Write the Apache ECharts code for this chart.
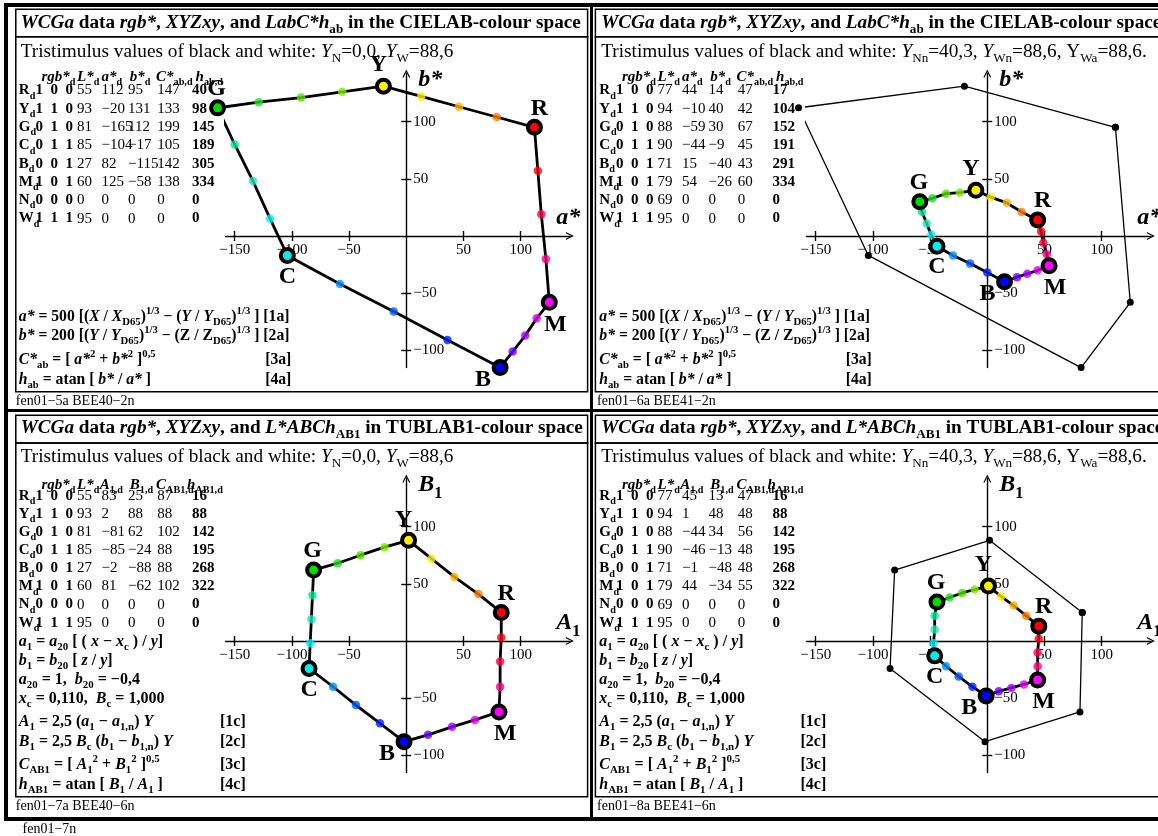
<!DOCTYPE html>
<html><head><meta charset="utf-8">
<script src="https://cdn.jsdelivr.net/npm/echarts@6/dist/echarts.min.js"></script>
<style>html,body{margin:0;padding:0;background:#fff}#c{width:1158px;height:836px}</style>
</head><body><div id="c"></div>
<script>
// ---------------- data ----------------
const rowNames = ['R','Y','G','C','B','M','N','W'];
const rgbCodes = ['1  0  0','1  1  0','0  1  0','0  1  1','0  0  1','1  0  1','0  0  0','1  1  1'];
const vertexNames = ['R','Y','G','C','B','M'];
const vertexColors = ['#ff0000','#ffee00','#00dd00','#00eeee','#0000ff','#ff00ff'];
const stepColors = ['#ff7a00','#ffae00','#ffe800','#80e800','#4ee000','#22dd22','#00e890','#20e4bc','#00f0f0','#0090ff','#0058ff','#0020ff','#6e00ff','#a800ff','#e400f0','#ff0088','#ff0048','#ff0010'];

// CIELAB, Y_N = 0
const lab1L = [55,93,81,85,27,60,0,95];
const lab1A = [112,-20,-165,-104,82,125,0,0];
const lab1B = [95,131,112,-17,-115,-58,0,0];
const lab1C = [147,133,199,105,142,138,0,0];
const lab1H = [40,98,145,189,305,334,0,0];
const lab1StepA = [79,46,13, -56,-92,-129, -150,-134,-119, -58,-11,36, 93,104,114, 122,118,115];
const lab1StepB = [104,113,122, 126,121,117, 80,48,15, -42,-66,-91, -101,-87,-72, -20,19,57];

// CIELAB, Y_Nn = 40,3
const lab2L = [77,94,88,90,71,79,69,95];
const lab2A = [44,-10,-59,-44,15,54,0,0];
const lab2B = [14,40,30,-9,-40,-26,0,0];
const lab2C = [47,42,67,45,43,60,0,0];
const lab2H = [17,104,152,191,291,334,0,0];
const lab2StepA = [30,17,3, -24,-36,-48, -57,-53,-49, -30,-15,0, 26,35,44, 52,49,47];
const lab2StepB = [21,29,34, 38,37,33, 21,11,1, -17,-24,-32, -36,-33,-30, -16,-6,4];

// TUBLAB1, Y_N = 0
const tub1L = [55,93,81,85,27,60,0,95];
const tub1A = [83,2,-81,-85,-2,81,0,0];
const tub1B = [25,88,62,-24,-88,-62,0,0];
const tub1C = [87,88,102,88,88,102,0,0];
const tub1H = [16,88,142,195,268,322,0,0];
const tub1StepA = [63,42,22, -19,-40,-60, -82,-83,-84, -64,-44,-23, 19,40,60, 82,82,83];
const tub1StepB = [41,56,72, 82,75,68, 40,19,-2, -40,-56,-72, -82,-75,-69, -40,-18,3];

// TUBLAB1, Y_Nn = 40,3
const tub2L = [77,94,88,90,71,79,69,95];
const tub2A = [45,1,-44,-46,-1,44,0,0];
const tub2B = [13,48,34,-13,-48,-34,0,0];
const tub2C = [47,48,56,48,48,55,0,0];
const tub2H = [16,88,142,195,268,322,0,0];
const tub2StepA = [34,23,12, -11,-22,-33, -46,-46,-47, -36,-25,-13, 10,21,32, 44,44,45];
const tub2StepB = [22,31,39, 45,42,38, 22,10,-2, -22,-31,-40, -44,-41,-38, -22,-10,2];

const xTicks = [-150,-100,-50,50,100];
const yTicks = [-100,-50,50,100];
const X_MIN = -158, X_MAX = 143, Y_MIN = -115, Y_MAX = 142;

// ---------------- layout ----------------
const K = 1.144;
const origins = [[406.3,236],[987.3,236],[406.3,641],[987.3,641]];
const labelOffsets = [[5,-19],[-5,-21],[-1,-19],[0,21],[-17,12],[6,22]];
const FAM = '"Liberation Serif","Times New Roman",serif';
const fnt = (st,w,sz)=>`${st} ${w} ${sz}px ${FAM}`;
const mm = s => String(s).replace(/-/g,'\u2212');

function rich(F){
  const s = +(F*0.68).toFixed(1), p = Math.round(F*0.7);
  const m = (st,w,sz,pad)=>{const o={font:fnt(st,w,sz),fill:'#000',verticalAlign:'middle'}; if(pad) o.padding=pad; return o;};
  return {
    r:m('normal','normal',F), b:m('normal','bold',F), i:m('italic','normal',F), bi:m('italic','bold',F),
    rs:m('normal','normal',s,[p,0,0,0]), bs:m('normal','bold',s,[p,0,0,0]),
    is:m('italic','normal',s,[p,0,0,0]), bis:m('italic','bold',s,[p,0,0,0]),
    rp:m('normal','normal',s,[0,0,p,0]), bp:m('normal','bold',s,[0,0,p,0])
  };
}
const graphics = [];
function T(x,y,text,F,base){
  graphics.push({type:'text', x, y, z:10, silent:true,
    style:{text, rich:rich(F), font:fnt('normal',base||'normal',F), fill:'#000', align:'left', verticalAlign:'middle'}});
}
function R(x,y,w,h,lw){
  graphics.push({type:'rect', z:1, silent:true, shape:{x,y,width:w,height:h}, style:{fill:'none',stroke:'#000',lineWidth:lw}});
}
function L(x1,y1,x2,y2,lw){
  graphics.push({type:'line', z:1, silent:true, shape:{x1,y1,x2,y2}, style:{stroke:'#000',lineWidth:lw}});
}

// frames
R(6,5,1170,814,4);
L(591.5,5,591.5,819,3);
L(6,410.5,1176,410.5,3);
[[15.8,9.3],[595.4,9.3]].forEach(([x,y])=>{ R(x,y,x<300?571.8:600,27.4,1.5); R(x,y+27.4,x<300?571.8:600,355,1.5); });
[[15.8,415.3],[595.4,415.3]].forEach(([x,y])=>{ R(x,y,x<300?571.8:600,27.7,1.5); R(x,y+27.7,x<300?571.8:600,353.7,1.5); });

// texts
const titleLab = '{bi|WCGa}{b| data }{bi|rgb*}{b|, }{bi|XYZxy}{b|, and }{bi|LabC*h}{bs|ab}{b| in the CIELAB-colour space}';
const titleTub = '{bi|WCGa}{b| data }{bi|rgb*}{b|, }{bi|XYZxy}{b|, and }{bi|L*ABCh}{bs|AB1}{b| in TUBLAB1-colour space}';
const tristimA = 'Tristimulus values of black and white: {i|Y}{rs|N}=0,0, {i|Y}{rs|W}=88,6';
const tristimB = 'Tristimulus values of black and white: {i|Y}{rs|Nn}=40,3, {i|Y}{rs|Wn}=88,6, Y{rs|Wa}=88,6.';
const footers = ['fen01\u22125a BEE40\u22122n','fen01\u22126a BEE41\u22122n','fen01\u22127a BEE40\u22126n','fen01\u22128a BEE41\u22126n'];

const headLab = [['{bi|rgb*}{bs|d}',41.4],['{bi|L*}{bs|d}',77.1],['{bi|a*}{bs|d}',101.6],['{bi|b*}{bs|d}',129.8],['{bi|C*}{bs|ab,d}',156.1],['{bi|h}{bs|ab,d}',195.6]];
const headTub = [['{bi|rgb*}{bs|d}',41.4],['{bi|L*}{bs|d}',77.1],['{bi|A}{bs|1,d}',99.7],['{bi|B}{bs|1,d}',129.8],['{bi|C}{bs|AB1,d}',156.1],['{bi|h}{bs|AB1,d}',187]];
const colX = [77.1,101.6,128,157.3,191.9];

const tables = [
  [lab1L,lab1A,lab1B,lab1C,lab1H],[lab2L,lab2A,lab2B,lab2C,lab2H],
  [tub1L,tub1A,tub1B,tub1C,tub1H],[tub2L,tub2A,tub2B,tub2C,tub2H]];

const formLab = [
  ['{bi|a*}{b| = 500 [(}{bi|X}{b| / }{bi|X}{bs|D65}{b|)}{bp|1/3}{b| \u2212 (}{bi|Y}{b| / }{bi|Y}{bs|D65}{b|)}{bp|1/3}{b| ] [1a]}',316.7,null],
  ['{bi|b*}{b| = 200 [(}{bi|Y}{b| / }{bi|Y}{bs|D65}{b|)}{bp|1/3}{b| \u2212 (Z / Z}{bs|D65}{b|)}{bp|1/3}{b| ] [2a]}',335.5,null],
  ['{bi|C*}{bs|ab}{b| = [ }{bi|a*}{bp|2}{b| + }{bi|b*}{bp|2}{b| ]}{bp|0,5}',360,'[3a]'],
  ['{bi|h}{bs|ab}{b| = atan [ }{bi|b*}{b| / }{bi|a*}{b| ]}',379.5,'[4a]']];
const formTub = [
  ['{bi|a}{bs|1}{b| = }{bi|a}{bs|20}{b| [ ( }{bi|x}{b| \u2212 }{bi|x}{bs|c}{b| ) / }{bi|y}{b|]}',641.7,null],
  ['{bi|b}{bs|1}{b| = }{bi|b}{bs|20}{b| [ }{bi|z}{b| / }{bi|y}{b|]}',660.5,null],
  ['{bi|a}{bs|20}{b| = 1,  }{bi|b}{bs|20}{b| = \u22120,4}',680,null],
  ['{bi|x}{bs|c}{b| = 0,110,  }{bi|B}{bs|c}{b| = 1,000}',699,null],
  ['{bi|A}{bs|1}{b| = 2,5 (}{bi|a}{bs|1}{b| \u2212 }{bi|a}{bs|1,n}{b|) }{bi|Y}',721.7,'[1c]'],
  ['{bi|B}{bs|1}{b| = 2,5 }{bi|B}{bs|c}{b| (}{bi|b}{bs|1}{b| \u2212 }{bi|b}{bs|1,n}{b|) }{bi|Y}',741.7,'[2c]'],
  ['{bi|C}{bs|AB1}{b| = [ }{bi|A}{bs|1}{bp|2}{b| + }{bi|B}{bs|1}{bp|2}{b| ]}{bp|0,5}',765,'[3c]'],
  ['{bi|h}{bs|AB1}{b| = atan [ }{bi|B}{bs|1}{b| / }{bi|A}{bs|1}{b| ]}',785,'[4c]']];

for (let p=0;p<4;p++){
  const dx = (p%2)*580.5, dy = p<2?0:405;
  const tub = p>=2;
  T(20.7+dx, 23.3+dy, tub?titleTub:titleLab, 19.2, 'bold');
  T(20.7+dx, 52+dy, (p%2)?tristimB:tristimA, 19.3);
  (tub?headTub:headLab).forEach(([t,x])=>T(x+dx, 77+dy+(tub?3:0), t, 15));
  const tb = tables[p];
  for (let r=0;r<8;r++){
    const y = (tub?496:90.5) + r*(tub?18.1:18.3);
    T(18.8+dx, y, `{b|${rowNames[r]}}{bs|d}`, 15, 'bold');
    T(35.5+dx, y, `{b|${rgbCodes[r]}}`, 15, 'bold');
    for (let c=0;c<5;c++) T(colX[c]+dx, y, c===4?`{b|${mm(tb[c][r])}}`:mm(tb[c][r]), 15);
  }
  (tub?formTub:formLab).forEach(([t,y,tag])=>{
    T(18.8+dx, y, t, tub?16:15.7, 'bold');
    if (tag) T((tub?220:265.2)+dx, y, `{b|${tag}}`, tub?16:15.7, 'bold');
  });
  T(15.8+dx+(p%2?0.7:0), (p<2?401.7:806), footers[p], 14);
  const [ox,oy] = origins[p];
  T(ox+12, oy-156, tub?'{bi|B}{bs|1}':'{bi|b*}', 24);
  T(ox+150, oy-18, tub?'{bi|A}{bs|1}':'{bi|a*}', 24);
}
T(22.6, 829.3, 'fen01\u22127n', 14);

// ---------------- chart ----------------
const panelDefs = [
  {A:lab1A,B:lab1B,sA:lab1StepA,sB:lab1StepB,oA:null,oB:null},
  {A:lab2A,B:lab2B,sA:lab2StepA,sB:lab2StepB,oA:lab1A,oB:lab1B},
  {A:tub1A,B:tub1B,sA:tub1StepA,sB:tub1StepB,oA:null,oB:null},
  {A:tub2A,B:tub2B,sA:tub2StepA,sB:tub2StepB,oA:tub1A,oB:tub1B}];

const grid=[], xAxis=[], yAxis=[], series=[];
const arrow = 'path://M0,10 L5,0 L10,10 L8.4,10 L5,3.2 L1.6,10 Z';
const tickLbl = {fontFamily:FAM, fontSize:15, color:'#000'};
const tickStyle = {show:true, length:5, lineStyle:{color:'#000',width:1.4}};
panelDefs.forEach((p,i)=>{
  const [ox,oy] = origins[i];
  grid.push({left: ox + X_MIN*K, top: oy - Y_MAX*K, width:(X_MAX-X_MIN)*K, height:(Y_MAX-Y_MIN)*K, containLabel:false, outerBoundsMode:'none'});
  const common = {gridIndex:i, type:'value', splitLine:{show:false}, splitArea:{show:false}};
  // main axes are shifted onto the origin with offset
  xAxis.push(Object.assign({}, common, {min:X_MIN, max:X_MAX, position:'bottom', offset:Y_MIN*K,
    axisLine:{show:true, onZero:false, symbol:['none',arrow], symbolSize:[8,11], lineStyle:{color:'#000',width:1.4}},
    axisTick:Object.assign({customValues:xTicks}, tickStyle),
    axisLabel:Object.assign({customValues:xTicks, margin:7, formatter:v=>mm(v)}, tickLbl)}));
  xAxis.push(Object.assign({}, common, {min:X_MIN, max:X_MAX, position:'top', offset:-Y_MAX*K,
    axisLine:{show:false, onZero:false},
    axisTick:Object.assign({customValues:xTicks}, tickStyle),
    axisLabel:{show:false}}));
  yAxis.push(Object.assign({}, common, {min:Y_MIN, max:Y_MAX, position:'left', offset:X_MIN*K,
    axisLine:{show:true, onZero:false, symbol:['none',arrow], symbolSize:[8,11], lineStyle:{color:'#000',width:1.4}},
    axisTick:Object.assign({customValues:yTicks}, tickStyle),
    axisLabel:Object.assign({customValues:yTicks, inside:true, margin:7, formatter:v=>mm(v)}, tickLbl)}));
  yAxis.push(Object.assign({}, common, {min:Y_MIN, max:Y_MAX, position:'right', offset:-X_MAX*K,
    axisLine:{show:false, onZero:false},
    axisTick:Object.assign({customValues:yTicks}, tickStyle),
    axisLabel:{show:false}}));
  const ax = {xAxisIndex:2*i, yAxisIndex:2*i, clip:false, silent:true, animation:false};
  if (p.oA){
    const d=[]; for(let k=0;k<6;k++) d.push([p.oA[k],p.oB[k]]); d.push([p.oA[0],p.oB[0]]);
    series.push(Object.assign({type:'line', data:d, symbol:'circle', symbolSize:7, showAllSymbol:true,
      itemStyle:{color:'#000'}, lineStyle:{color:'#000',width:1.3}, z:2}, ax));
  }
  const path=[];
  for(let k=0;k<6;k++){ path.push([p.A[k],p.B[k]]); for(let j=0;j<3;j++) path.push([p.sA[3*k+j],p.sB[3*k+j]]); }
  path.push([p.A[0],p.B[0]]);
  series.push(Object.assign({type:'line', data:path, symbol:'none', showSymbol:false, lineStyle:{color:'#000',width:2.8}, z:3}, ax));
  series.push(Object.assign({type:'scatter', symbolSize:8.5, z:4,
    data:p.sA.map((a,k)=>({value:[a,p.sB[k]], itemStyle:{color:stepColors[k]}}))}, ax));
  series.push(Object.assign({type:'scatter', symbolSize:13, z:5,
    itemStyle:{borderColor:'#000', borderWidth:4, opacity:1},
    label:{show:true, position:'inside', formatter:'{b}', fontFamily:FAM, fontSize:24, fontWeight:'bold', color:'#000'},
    data:vertexNames.map((n,k)=>({name:n, value:[p.A[k],p.B[k]], itemStyle:{color:vertexColors[k]}, label:{offset:labelOffsets[k]}}))}, ax));
});

const chart = echarts.init(document.getElementById('c'), null, {renderer:'canvas'});
chart.setOption({animation:false, backgroundColor:'#fff', grid, xAxis, yAxis, series, graphic:{elements:graphics}});
</script></body></html>
